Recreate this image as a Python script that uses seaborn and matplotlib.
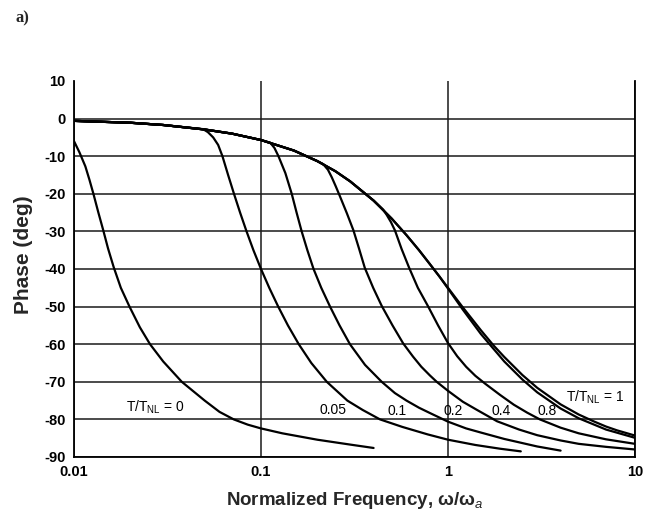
import matplotlib
matplotlib.use("Agg")
import matplotlib.pyplot as plt
import seaborn as sns
import pandas as pd
from matplotlib.ticker import LogLocator, NullFormatter, MultipleLocator, FixedLocator

# ---- data ----
# common upper curve (T/T_NL = 1)
base_w = [0.01, 0.02, 0.03, 0.05, 0.07, 0.1, 0.15, 0.2, 0.25, 0.3, 0.4, 0.5, 0.6, 0.7, 0.8, 0.9,
          1.0, 1.2, 1.5, 1.75, 2.0, 2.5, 3.0, 4.0, 5.0, 6.0, 7.0, 8.0, 10.0]
base_phase = [-0.6, -1.1, -1.7, -2.9, -4.0, -5.7, -8.5, -11.3, -14.0, -16.7, -21.8, -26.6, -31.0, -35.0, -38.7, -42.0,
              -45.0, -50.2, -56.3, -60.3, -63.4, -68.2, -71.6, -76.0, -78.7, -80.5, -81.9, -82.9, -84.3]

# branches (each begins where it leaves the upper curve)
t0_w = [0.01, 0.0107, 0.0115, 0.0121, 0.0127, 0.0135, 0.0143, 0.0152, 0.0163, 0.0178, 0.0198, 0.0225,
        0.0255, 0.030, 0.0377, 0.05, 0.06, 0.0715, 0.085, 0.1, 0.13, 0.2, 0.3, 0.4]
t0_phase = [-6.0, -9.0, -12.7, -16.3, -20.0, -25.0, -29.5, -34.5, -39.5, -45.0, -50.0, -55.5,
            -60.0, -64.6, -70.0, -75.0, -78.0, -80.0, -81.4, -82.4, -83.7, -85.4, -86.7, -87.6]

t005_w = [0.049, 0.052, 0.0555, 0.059, 0.0622, 0.0667, 0.0717, 0.0773, 0.0837, 0.0911, 0.1, 0.1107, 0.1236,
          0.1393, 0.1592, 0.1858, 0.2248, 0.2896, 0.35, 0.433, 0.57, 0.78, 1.0, 1.4, 1.9, 2.45]
t005_phase = [-2.8, -3.6, -5.0, -7.0, -10.0, -15.0, -20.0, -25.0, -30.0, -35.0, -40.0, -45.0, -50.0,
              -55.0, -60.0, -65.0, -70.0, -75.0, -77.5, -80.0, -82.0, -84.0, -85.4, -86.8, -87.8, -88.5]

t01_w = [0.112, 0.118, 0.124, 0.135, 0.146, 0.155, 0.165, 0.177, 0.191, 0.21, 0.234, 0.263, 0.299, 0.36,
         0.442, 0.52, 0.6, 0.7, 0.8, 1.0, 1.25, 1.5, 2.0, 3.0, 4.0]
t01_phase = [-6.4, -7.8, -10.0, -14.5, -20.0, -25.0, -30.0, -35.0, -40.0, -45.0, -50.0, -55.0, -60.0, -65.5,
             -70.0, -73.0, -75.0, -76.9, -78.3, -80.6, -82.4, -83.5, -85.2, -87.2, -88.3]

t02_w = [0.215, 0.228, 0.239, 0.251, 0.264, 0.288, 0.312, 0.335, 0.359, 0.398, 0.442, 0.505, 0.576, 0.65,
         0.72, 0.8, 0.87, 1.0, 1.2, 1.42, 1.83, 2.4, 3.0, 4.0, 5.0, 7.0, 10.0]
t02_phase = [-12.1, -13.6, -15.6, -18.0, -20.6, -25.2, -29.7, -34.7, -39.7, -45.0, -49.8, -55.0, -59.8, -63.3,
             -66.0, -68.3, -70.0, -72.4, -75.3, -77.4, -80.5, -82.7, -84.2, -85.6, -86.5, -87.3, -88.0]

t04_w = [0.45, 0.47, 0.495, 0.52, 0.565, 0.62, 0.69, 0.78, 0.885, 1.0, 1.12, 1.25, 1.4, 1.58, 1.9,
         2.25, 2.65, 3.1, 4.0, 5.0, 7.0, 10.0]
t04_phase = [-24.2, -25.6, -27.5, -29.7, -34.7, -39.7, -45.0, -49.8, -55.0, -59.7, -63.2, -66.0, -68.4, -70.5, -73.5,
             -76.1, -78.2, -80.0, -82.2, -83.7, -85.3, -86.5]

t08_w = [0.9, 1.0, 1.2, 1.5, 2.0, 2.5, 3.0, 4.0, 5.0, 7.0, 10.0]
t08_phase = [-42.0, -45.2, -50.8, -57.3, -64.6, -69.4, -72.8, -77.1, -79.7, -82.7, -84.9]

x_ticks = [0.01, 0.1, 1, 10]
x_tick_labels = ["0.01", "0.1", "1", "10"]
y_ticks = list(range(-90, 11, 10))
y_tick_labels = [str(v) for v in y_ticks]

curve_labels = ["T/T$_{\\rm NL}$ = 0", "0.05", "0.1", "0.2", "0.4", "0.8", "T/T$_{\\rm NL}$ = 1"]
label_w = [0.0273, 0.243, 0.535, 1.06, 1.92, 3.37, 6.1]
label_phase = [-76.9, -77.5, -77.7, -77.7, -77.7, -77.7, -74.2]

# ---- build curves ----
branches = [("0", t0_w, t0_phase), ("0.05", t005_w, t005_phase), ("0.1", t01_w, t01_phase),
            ("0.2", t02_w, t02_phase), ("0.4", t04_w, t04_phase), ("0.8", t08_w, t08_phase)]
rows = []
for name, bw, bp in branches:
    ws = [w for w in base_w if w < bw[0]] + list(bw)
    ps = [p for w, p in zip(base_w, base_phase) if w < bw[0]] + list(bp)
    rows += [dict(curve=name, w=w, phase=p) for w, p in zip(ws, ps)]
rows += [dict(curve="1", w=w, phase=p) for w, p in zip(base_w, base_phase)]
df = pd.DataFrame(rows)

sns.set_style("white")
plt.rcParams['font.family'] = ['Liberation Sans', 'DejaVu Sans']
plt.rcParams['mathtext.fontset'] = 'custom'
plt.rcParams['mathtext.rm'] = 'Liberation Sans'
plt.rcParams['mathtext.it'] = 'Liberation Sans:italic'
plt.rcParams['mathtext.bf'] = 'Liberation Sans:bold'

fig = plt.figure(figsize=(6.46, 5.12), dpi=100)
ax = fig.add_axes([74/646, 1-457/512, (635-74)/646, (457-81)/512])
ax.set_xscale('log')

sns.lineplot(data=df, x='w', y='phase', units='curve', estimator=None, sort=False,
             color='black', lw=1.6, legend=False, ax=ax, zorder=3)

ax.set_xlim(0.01, 10)
ax.set_ylim(-90, 10)

ax.xaxis.set_major_locator(FixedLocator(x_ticks))
ax.set_xticklabels(x_tick_labels)
ax.xaxis.set_minor_locator(LogLocator(base=10, subs=range(2, 10)))
ax.xaxis.set_minor_formatter(NullFormatter())
ax.yaxis.set_major_locator(FixedLocator(y_ticks))
ax.set_yticklabels(y_tick_labels)
ax.yaxis.set_minor_locator(MultipleLocator(2))

ax.tick_params(axis='both', which='major', direction='in', length=6, width=1.0,
               labelsize=10.5, pad=6, colors='black')
ax.tick_params(axis='both', which='minor', direction='in', length=3.5, width=0.9, colors='black')
ax.tick_params(top=False, right=False, which='both')
for lab in ax.get_xticklabels() + ax.get_yticklabels():
    lab.set_fontweight('bold')

ax.grid(True, which='major', color='#1a1a1a', lw=1.1)
ax.set_axisbelow(True)
for line, t in zip(ax.get_ygridlines(), y_ticks):
    if t == 10:
        line.set_visible(False)

for side in ['left', 'bottom', 'right']:
    ax.spines[side].set_color('black')
    ax.spines[side].set_linewidth(1.3)
ax.spines['top'].set_visible(False)

ax.set_xlabel("Normalized Frequency, ω/ω$_{a}$", fontsize=13.5, fontweight='bold', labelpad=8)
ax.set_ylabel("Phase (deg)", fontsize=15, fontweight='bold', labelpad=8)
ax.yaxis.label.set_position((0, (457 - 255) / (457 - 81)))

for txt, lw_, lp in zip(curve_labels, label_w, label_phase):
    ax.text(lw_, lp, txt, ha='center', va='center', fontsize=10, color='black', zorder=4)

fig.text(22/646, 1-18/512, "a)", fontsize=12, fontweight='bold',
         family=['Liberation Serif', 'DejaVu Serif'], ha='center', va='center')

fig.savefig("out.png", dpi=100)
